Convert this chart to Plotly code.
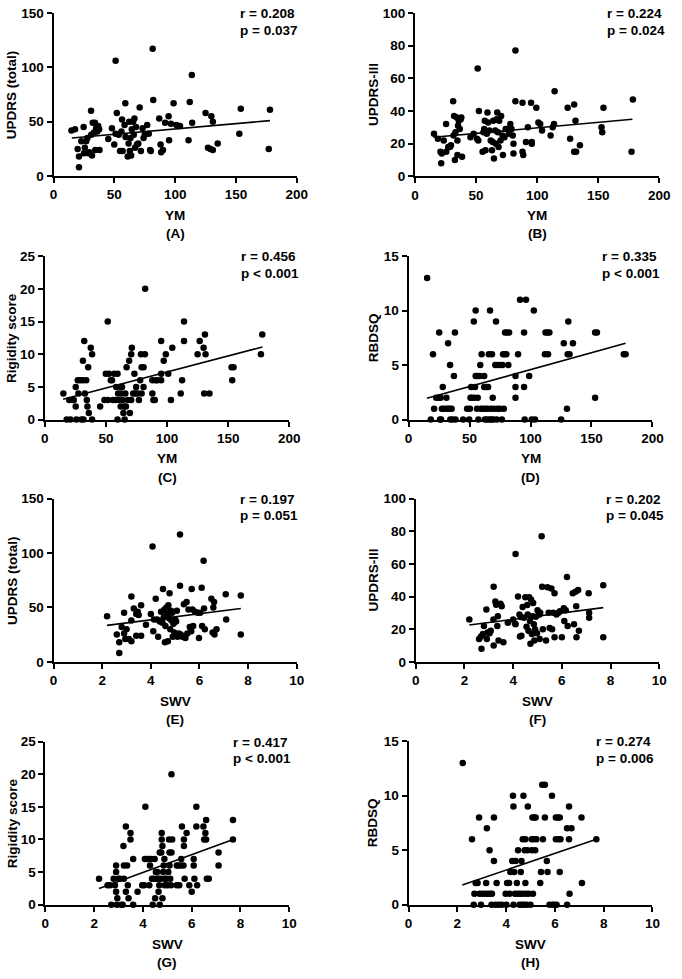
import plotly.graph_objects as go

W, H = 682, 979

# ---------------- data ----------------
A_x = [14.7,17.7,19.8,20.9,20.9,22.8,24.7,25,25.7,26.8, 27.8,28.4,29.5,30.8,31,31.6,32.2,33.2,34,34.3,
       35,36,36.7,37.5,37.8,45,48,49.9,51,51, 52,53.6,54.7,55.8,56.3,56.8,58.4,59,59.2,61,
       61.7,62.2,62.7,63.3,63.8,64.3,65.4,66,66.5,67, 67.8,68.6,69.7,70.8,71.8,73.2,74,75,77,78.3,
       79.4,80,81.5,82,86.9,88,88.5,90,91.7,94.6, 95,96.5,98.7,101,103,104,111,112,113.7,114,
       125,127,129,129.8,131,131,135,152.8,154,177, 178]
A_y = [42,43,25,18,8,32,45,21,26,32, 35,21,22,60,38,19,49,40,49,24,
       44,41,46,43,24,34,44,29,106,39, 58,38,23,41,52,23,47,67,36,18,
       30,50,23,35,19,43,50,38,53,26, 45,29,30,63,23,44,35,38,47,39,
       24,23,117,70,53,29,22,24,49,55, 33,48,67,47,46,46,33,68,93,49,
       58,26,25,55,50,24,30,39,62,25, 61]

B_x = [15.5,18.7,20.8,21.4,21.9,23.5,25.4,25.6,27.2,28.6, 29.4,31.2,31.5,32,32.6,33.1,34.2,34.7,35.2,35.8,
       36.6,37.4,37.9,38.5,34.7,45.4,48,50.7,51.3,51.8, 52.3,55.3,56,56.6,57.1,57.7,58.8,59.3,59.8,60.9,
       62,63,63.6,64,64.6,65.7,66.2,66.8,67.3,67.8, 68.4,68.9,70,70.5,71.6,72,73.2,74.2,75.3,76.9,
       78,79,80,80.6,80.6,82.2,82.2,88,88,88.6, 90.8,92.4,95,95.6,95.6,99.3,101,102.5,104,111,
       112.7,113.8,114.3,125,127,130.3,130.3,131.9,131.4,135, 152.7,153.3,154.3,177.3,178.4]
B_y = [26,23,15,8,14,22,32,15,18,18, 19,46,25,37,10,27,36,22,31,34,
       29,35,36,12,13,24,26,23,66,22, 40,15,27,29,34,16,26,39,33,28,
       22,16,21,34,11,28,20,35,39,27, 18,34,22,37,25,13,24,29,29,26,
       32,29,25,20,14,46,77,45,15,13, 21,30,45,21,20,42,33,32,28,25,
       30,32,52,42,23,44,15,15,34,19, 30,27,42,15,47]

C_x = [15.2,17.9,20,21,22.7,23.7,25.3,25.3,25.9,27, 27.5,29,30,31.2,31.2,31.7,32.3,32.8,33.9,34.4,
       34.9,35.5,36,37.6,38.7,38.7,45.3,48.8,49.9,51.5, 51.5,52.5,54,55,55.7,56.8,57.9,58.4,59.5,59.5,
       60,61,61.6,62.1,62.7,63.2,63.7,64.3,64.8,65.3, 65.9,66.4,66.9,68,69,69.6,70.7,70.7,71.2,72.3,
       73.3,73.9,74.7,76,77,78,78.7,79.2,79.2,80.8, 80.8,81.9,82.1,88,88,88.8,90,90.7,92,95.2,
       95.2,95.2,97.3,99,101,103.2,104.3,111.2,112.3,113.9, 113.9,125,126.7,129.9,130.4,131,131.5,134.7,152.8,153.3,
       154.4,176.8,177.9]
C_y = [4,0,3,0,3,3,5,2,0,6, 4,6,0,9,6,0,12,4,6,3,
       2,8,1,11,10,0,2,3,7,15, 3,7,6,6,3,7,3,5,0,7,
       4,3,5,2,4,5,3,1,2,0, 4,2,8,3,9,1,10,3,11,4,
       7,4,5,4,3,6,10,8,4,8, 5,10,20,6,4,3,3,6,6,6,
       7,12,9,10,7,3,11,4,6,15, 12,10,12,11,4,13,10,4,8,6,
       8,10,13]

D_x = [15.2,18.2,20,20.9,22.7,24.6,25.1,25.7,26.2,26.7, 27.3,28,28.9,31,31,32.4,32.6,33.7,34,34.2,
       35.3,36,37.2,38,38.5,44.7,48,49.7,50.3,50.8, 51.3,51.9,53.5,54,54.5,55,55,56.1,56.7,56.7,
       57.2,58.3,58.8,59.4,59.9,61,62,62,62.6,63.1, 63.6,64.2,64.7,65.2,65.8,66.3,66.8,67.4,67.9,68.4,
       69,69.5,70,71.1,71.7,72.2,72.7,73.3,74.9,75.4, 76.5,77,77.5,78.1,78.6,79.1,80.2,80.7,81.8,82.4,
       87.7,87.7,87.7,89.8,91.4,94.7,94.7,95.2,96.3,98.9, 101,102.7,103.7,111.8,112.3,113.9,114.4,115.5,125.1,127.3,
       129.9,130.5,131,132,134.8,153,153,154.5,176.5,178]
D_y = [13,0,6,1,2,2,8,0,2,0, 1,3,1,2,1,7,1,1,5,0,
       1,0,4,8,0,0,1,0,1,2, 3,2,9,2,3,10,4,1,2,4,
       0,4,5,1,6,1,4,3,0,1, 3,0,1,3,6,0,10,1,0,6,
       2,0,1,5,9,0,1,5,1,5, 0,5,6,1,6,8,6,8,5,8,
       4,3,2,6,11,8,3,0,11,4, 0,10,0,6,8,8,6,8,0,7,
       1,6,9,6,7,2,8,8,6,6]

E_x = [2.2,2.6,2.7,2.7,2.8,2.9,2.9,2.95,3.0,3.1, 3.2,3.2,3.2,3.3,3.4,3.4,3.46,3.5,3.6,3.6,
       3.8,4.0,4.07,4.1,4.13,4.2,4.26,4.3,4.37,4.42, 4.48,4.5,4.53,4.56,4.58,4.6,4.64,4.66,4.7,4.72,
       4.75,4.77,4.8,4.83,4.85,4.88,4.9,4.93,4.96,5.0, 5.01,5.04,5.07,5.1,5.15,5.2,5.2,5.23,5.3,5.36,
       5.42,5.47,5.5,5.55,5.6,5.66,5.68,5.71,5.74,5.82, 5.92,5.98,6.03,6.09,6.11,6.17,6.19,6.22,6.49,6.54,
       6.6,6.57,6.62,6.7,7.08,7.1,7.7,7.7]
E_y = [42,25,18,8,32,45,26,21,30,21, 60,38,19,49,24,44,46,43,52,24,
       34,44,106,28,39,58,39,23,37,46, 36,67,41,48,18,33,50,44,19,52,
       40,63,30,47,38,45,23,35,27,39, 24,37,47,23,26,117,70,25,23,53,
       22,55,26,48,32,28,67,48,33,46, 45,22,45,68,33,93,49,30,58,27,
       55,50,25,30,62,39,61,25]

F_x = [2.2,2.6,2.68,2.7,2.76,2.8,2.9,2.92,2.95,3.03, 3.08,3.19,3.2,3.2,3.27,3.3,3.35,3.37,3.4,3.48,
       3.53,3.6,3.78,4.0,4.07,4.1,4.1,4.2,4.26,4.28, 4.31,4.34,4.39,4.44,4.5,4.55,4.58,4.6,4.63,4.66,
       4.69,4.71,4.74,4.77,4.8,4.82,4.85,4.87,4.9,4.93, 4.98,5.0,5.06,5.09,5.11,5.17,5.19,5.22,5.35,5.41,
       5.46,5.5,5.57,5.6,5.65,5.7,5.7,5.78,5.86,5.92, 6.0,6.08,6.1,6.16,6.21,6.24,6.45,6.5,6.56,6.59,
       6.6,6.67,6.7,7.1,7.12,7.12,7.7,7.7]
F_y = [26,14,15.5,8,17,22,32,14,18,17.5, 19,26,46,10,37,35,22,28,13,35.6,
       34,12,24,26,23.5,23,66,40,29,15.5, 27.5,16,33.6,27,39.6,21.5,34.8,29,19,39.6,
       25,11,38,17,28,36,23,13,20,27.6, 17.5,31.6,28.8,14,30,77,46,20,13,45.7,
       30,20.7,45,20,30,42,15,29,30,31, 15,32.8,25,31.6,52,22,42,23,43,34,
       15,44,19,42,30,27,15,47]

G_x = [2.2,2.55,2.65,2.7,2.8,2.85,2.9,2.9,2.9,2.93, 2.95,3.0,3.06,3.11,3.17,3.2,3.22,3.22,3.3,3.3,
       3.35,3.38,3.41,3.49,3.49,3.6,3.6,3.78,3.97,4.05, 4.08,4.1,4.16,4.24,4.26,4.29,4.34,4.37,4.4,4.43,
       4.48,4.5,4.53,4.56,4.59,4.61,4.64,4.67,4.69,4.69, 4.72,4.75,4.77,4.77,4.8,4.8,4.83,4.85,4.88,4.88,
       4.9,4.96,5.01,5.04,5.07,5.09,5.09,5.12,5.15,5.17, 5.17,5.2,5.39,5.39,5.44,5.49,5.55,5.57,5.6,5.66,
       5.68,5.68,5.71,5.79,5.9,6.0,6.08,6.08,6.11,6.19, 6.19,6.22,6.48,6.51,6.56,6.59,6.59,6.62,6.7,7.1,
       7.1,7.69,7.69]
G_y = [4,3,3,0,4,3,6,5,2,0, 1,4,4,0,0,9,6,4,12,2,
       6,3,1,10,11,7,0,2,3,3, 7,15,7,7,3,6,7,4,0,4,
       7,1,5,4,5,4,2,3,8,0, 4,8,11,10,1,9,5,6,7,4,
       3,4,3,5,10,8,6,4,3,20, 8,10,6,3,6,3,6,7,12,6,
       10,9,4,11,3,2,7,6,4,15, 12,3,12,10,11,13,10,4,4,8,
       6,13,10]

H_x = [2.22,2.6,2.67,2.7,2.75,2.83,2.89,2.91,2.97,3.02, 3.13,3.18,3.21,3.24,3.32,3.34,3.4,3.42,3.5,3.5,
       3.56,3.61,3.69,3.82,3.98,4.01,4.04,4.12,4.14,4.17, 4.25,4.28,4.3,4.3,4.33,4.36,4.39,4.44,4.47,4.49,
       4.55,4.57,4.6,4.63,4.65,4.68,4.68,4.71,4.73,4.76, 4.79,4.79,4.81,4.84,4.87,4.89,4.92,5.0,5.05,5.05,
       5.08,5.1,5.13,5.16,5.19,5.21,5.24,5.4,5.43,5.48, 5.51,5.59,5.59,5.67,5.7,5.78,5.88,5.91,5.96,6.04,
       6.04,6.07,6.12,6.15,6.2,6.2,6.23,6.5,6.5,6.58, 6.58,6.6,6.68,7.09,7.11,7.7]
H_y = [13,6,0,1,2,2,8,1,0,1, 1,2,7,1,5,1,0,1,4,8,
       0,2,0,0,1,0,2,2,1,3, 4,10,9,0,3,1,4,2,1,5,
       0,1,3,4,0,6,1,10,0,5, 6,2,1,0,5,9,1,0,6,5,
       8,1,6,8,5,8,6,2,3,11, 6,8,11,4,3,0,10,0,0,8,
       6,0,8,6,8,3,6,0,7,9, 6,1,7,8,2,6]

# regression line end points
fit_x_ym = [15, 178]
fit_x_swv = [2.2, 7.7]
A_fit = [35, 51]
B_fit = [23.9, 34.9]
C_fit = [3.1, 11.1]
D_fit = [1.95, 7.0]
E_fit = [33.5, 49]
F_fit = [22.6, 33.2]
G_fit = [2.5, 10]
H_fit = [1.8, 6.0]

y_titles = ["UPDRS (total)", "UPDRS-III", "Rigidity score", "RBDSQ",
            "UPDRS (total)", "UPDRS-III", "Rigidity score", "RBDSQ"]
x_titles = ["YM", "YM", "YM", "YM", "SWV", "SWV", "SWV", "SWV"]
panel_labels = ["(A)", "(B)", "(C)", "(D)", "(E)", "(F)", "(G)", "(H)"]
r_texts = ["r = 0.208", "r = 0.224", "r = 0.456", "r = 0.335",
           "r = 0.197", "r = 0.202", "r = 0.417", "r = 0.274"]
p_texts = ["p = 0.037", "p = 0.024", "p < 0.001", "p < 0.001",
           "p = 0.051", "p = 0.045", "p < 0.001", "p = 0.006"]
y_max = [150, 100, 25, 15, 150, 100, 25, 15]
y_dtick = [50, 20, 5, 5, 50, 20, 5, 5]
x_max = [200, 200, 200, 200, 10, 10, 10, 10]
x_dtick = [50, 50, 50, 50, 2, 2, 2, 2]

xs = [A_x, B_x, C_x, D_x, E_x, F_x, G_x, H_x]
ys = [A_y, B_y, C_y, D_y, E_y, F_y, G_y, H_y]
fxs = [fit_x_ym] * 4 + [fit_x_swv] * 4
fys = [A_fit, B_fit, C_fit, D_fit, E_fit, F_fit, G_fit, H_fit]

# ---------------- layout geometry (pixels) ----------------
# (left, right, top, bottom) of each plot area
boxes = [(50.7, 299.3, 6, 171.7), (420.3, 670, 6, 172),
         (41.7, 291.7, 253, 419), (413.7, 663, 253, 419),
         (50.7, 299.3, 499.3, 665), (421, 670, 499.3, 665),
         (42.3, 291.7, 746, 911.7), (413.7, 663, 745.5, 911.7)]
ytitle_x = [8, 377.7, 8.3, 377.7, 8, 377.7, 8.3, 377.7]
rp_x = [239, 615, 240.7, 609.3, 239.3, 613.7, 231.7, 603]

FONT = "Liberation Sans, Arial, sans-serif"
FS = 13.5

fig = go.Figure()
layout = dict(width=W, height=H, margin=dict(l=0, r=0, t=0, b=0),
              plot_bgcolor="white", paper_bgcolor="white", showlegend=False,
              font=dict(family=FONT, size=FS, color="black", weight="bold"))
annotations = []

def px(x):
    return x / W

def py(y):
    return 1 - y / H

def text(x, y, s, angle=0, xanchor="center"):
    annotations.append(dict(x=px(x), y=py(y), xref="paper", yref="paper", text=s,
                            showarrow=False, textangle=angle, xanchor=xanchor, yanchor="middle",
                            font=dict(family=FONT, size=FS, color="black", weight="bold")))

for i in range(8):
    n = "" if i == 0 else str(i + 1)
    l, r, t, b = boxes[i]
    fig.add_trace(go.Scatter(x=xs[i], y=ys[i], mode="markers", xaxis="x" + n, yaxis="y" + n,
                             marker=dict(color="black", size=6.5), cliponaxis=False))
    fig.add_trace(go.Scatter(x=fxs[i], y=fys[i], mode="lines", xaxis="x" + n, yaxis="y" + n,
                             line=dict(color="black", width=1.6), cliponaxis=False))
    axcommon = dict(showgrid=False, zeroline=False, showline=True, linecolor="black", linewidth=2,
                    ticks="outside", ticklen=5, tickwidth=2, tickcolor="black",
                    tickfont=dict(family=FONT, size=FS, color="black", weight="bold"))
    layout["xaxis" + n] = dict(domain=[px(l), px(r)], range=[0, x_max[i]], dtick=x_dtick[i],
                               tick0=0, anchor="y" + n, **axcommon)
    layout["yaxis" + n] = dict(domain=[py(b), py(t)], range=[0, y_max[i]], dtick=y_dtick[i],
                               tick0=0, anchor="x" + n, **axcommon)
    cx = (l + r) / 2
    text(cx, b + 40, x_titles[i])
    text(cx, b + 58.5, panel_labels[i])
    text(ytitle_x[i], (t + b) / 2, y_titles[i], angle=-90)
    text(rp_x[i], t + 0.5, r_texts[i], xanchor="left")
    text(rp_x[i], t + 17.5, p_texts[i], xanchor="left")

layout["annotations"] = annotations
fig.update_layout(**layout)
fig.write_html("out.html")
